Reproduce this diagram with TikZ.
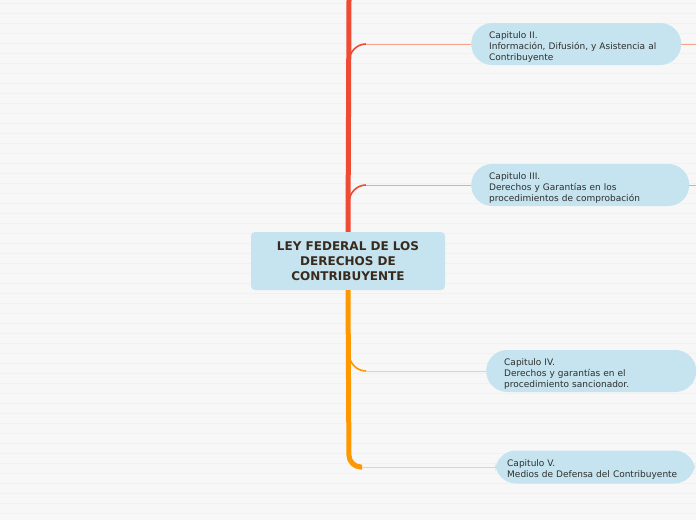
\documentclass[tikz,border=0pt]{standalone}
\usepackage{fontspec}
\setmainfont{DejaVu Sans}
\usepackage{xcolor}
\usetikzlibrary{positioning,calc}

\definecolor{nodeblue}{HTML}{C5E4EF}
\definecolor{trunkred}{HTML}{EE4A34}
\definecolor{trunkorange}{HTML}{FF9800}
\definecolor{linered}{HTML}{F7A48C}
\definecolor{lineorange}{HTML}{FFCE88}
\definecolor{paper}{HTML}{F7F7F7}
\definecolor{paperline}{HTML}{F1F1F1}
\definecolor{titletext}{HTML}{3A2A1E}
\definecolor{bodytext}{HTML}{2E2E2E}

\begin{document}
\begin{tikzpicture}[x=1pt, y=-1pt,
    mainbox/.style={fill=nodeblue, rounded corners=4pt, minimum width=194pt, minimum height=58pt,
        align=center, text=titletext, font=\fontsize{12}{15}\selectfont\bfseries},
    pill/.style={fill=nodeblue, rounded corners=21pt, minimum height=42pt, inner xsep=18pt, inner ysep=1pt,
        align=left, text=bodytext, font=\fontsize{9}{11}\selectfont, anchor=west,
        execute at begin node=\rule{0pt}{12pt}},
    trunk/.style={line width=5pt},
    twig/.style={line width=1pt}]
    \useasboundingbox (0,0) rectangle (696,520);
    \fill[paper] (0,0) rectangle (696,520);
    \foreach \y in {3,13,...,513}
        \draw[paperline, line width=1pt] (0,\y) -- (696,\y);

    \coordinate (top) at (349,0);
    \node[mainbox] (law) at (348,261) {LEY FEDERAL DE LOS\\DERECHOS DE\\CONTRIBUYENTE};

    \node[pill, text width=174pt] (cap2) at (471,44) {Capitulo II.\\Información, Difusión, y Asistencia al\\Contribuyente};
    \node[pill, text width=182pt] (cap3) at (471,185) {Capitulo III.\\Derechos y Garantías en los\\procedimientos de comprobación};
    \node[pill, text width=174pt] (cap4) at (486,371) {Capitulo IV.\\Derechos y garantías en el\\procedimiento sancionador.};
    \node[pill, text width=176pt, minimum height=33pt, inner xsep=12pt] (cap5) at (495,467) {Capitulo V.\\Medios de Defensa del Contribuyente};

    \coordinate (end2) at (696,44);
    \coordinate (end3) at (696,185);

    % trunk
    \draw[trunk, trunkred] (top) -- (law.north);
    \draw[trunk, trunkorange, rounded corners=12pt] (law.south) -- (349,467) -- (362,467);

    % branches up
    \draw[line width=1.6pt, trunkred] (349,62) to[out=90,in=180] (366,44);
    \draw[twig, linered] (366,44) -- (cap2.west);
    \draw[twig, linered] (cap2.east) -- (end2);
    \draw[line width=1.6pt, trunkred] (349,203) to[out=90,in=180] (366,185);
    \draw[twig, linered] (366,185) -- (cap3.west);
    \draw[twig, linered] (cap3.east) -- (end3);

    % branches down
    \draw[line width=1.6pt, trunkorange] (349,353) to[out=-90,in=180] (366,371);
    \draw[twig, lineorange] (366,371) -- (cap4.west);
    \draw[twig, lineorange] (362,467) -- (cap5.west);
\end{tikzpicture}
\end{document}
